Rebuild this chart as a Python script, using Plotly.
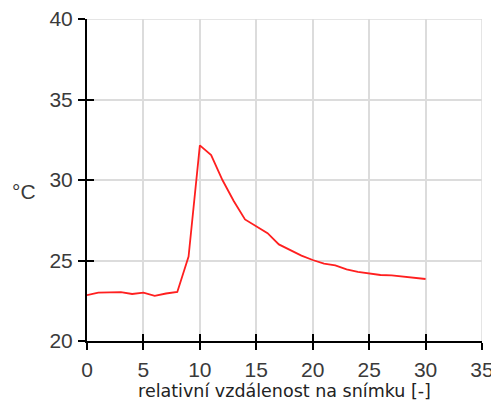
import plotly.graph_objects as go

x_values = list(range(0, 31))
temperature_c = [22.85, 23.0, 23.02, 23.04, 22.92, 23.0, 22.8, 22.95, 23.05, 25.25,
                 32.15, 31.55, 30.0, 28.7, 27.55, 27.15, 26.7, 26.0, 25.65, 25.3,
                 25.03, 24.8, 24.7, 24.45, 24.3, 24.2, 24.1, 24.08, 24.0, 23.95, 23.85]
x_tick_vals = [0, 5, 10, 15, 20, 25, 30, 35]
y_tick_vals = [20, 25, 30, 35, 40]
x_title = "relativní vzdálenost na snímku [-]"
y_title = "°C"

tick_font = dict(family="Liberation Sans", size=21, color="#3a3a3a")
grid_color = "#dcdcdc"

W, H = 491, 397
L, R, T, B = 79, 17, 11, 64

fig = go.Figure()
fig.add_trace(go.Scatter(x=x_values, y=temperature_c, mode="lines",
                         line=dict(color="#ff1f1f", width=1.8), hoverinfo="skip",
                         showlegend=False))
fig.add_trace(go.Scatter(x=x_values, y=temperature_c, mode="lines", xaxis="x2", yaxis="y2",
                         line=dict(color="rgba(0,0,0,0)", width=0), hoverinfo="skip",
                         showlegend=False))

# edge grid lines (top and right), which plotly omits at the range limits
fig.add_shape(type="line", xref="paper", yref="y", x0=0, x1=1,
              y0=y_tick_vals[-1], y1=y_tick_vals[-1], line=dict(color=grid_color, width=1.5),
              layer="below")
fig.add_shape(type="line", xref="x", yref="paper", x0=x_tick_vals[-1], x1=x_tick_vals[-1],
              y0=0, y1=1, line=dict(color=grid_color, width=1.5), layer="below")

fig.update_layout(
    width=W, height=H,
    margin=dict(l=L, r=R, t=T, b=B, autoexpand=False),
    paper_bgcolor="white", plot_bgcolor="white",
    xaxis=dict(range=[0, 35], tickvals=x_tick_vals, showgrid=True, gridcolor=grid_color,
               gridwidth=1.5, zeroline=False, showline=True, linecolor="black", linewidth=2,
               ticks="outside", ticklen=7, tickwidth=2, tickcolor="black", automargin=False,
               tickfont=tick_font, ticklabelstandoff=2, ticklabeloverflow="allow",
               title=dict(text=x_title, font=dict(family="DejaVu Sans", size=17.5, color="#222222"),
                          standoff=0)),
    yaxis=dict(range=[20, 40], tickvals=y_tick_vals, showgrid=True, gridcolor=grid_color,
               gridwidth=1.5, zeroline=False, showline=True, linecolor="black", linewidth=2,
               ticks="outside", ticklen=7, tickwidth=2, tickcolor="black", automargin=False,
               tickfont=tick_font, ticklabelstandoff=1, ticklabeloverflow="allow"),
    xaxis2=dict(range=[0, 35], tickvals=x_tick_vals, overlaying="x", anchor="y2", side="bottom",
                showgrid=False, zeroline=False, showline=False, showticklabels=False,
                automargin=False, ticks="inside", ticklen=7, tickwidth=2, tickcolor="black"),
    yaxis2=dict(range=[20, 40], tickvals=y_tick_vals, overlaying="y", anchor="x2", side="left",
                showgrid=False, zeroline=False, showline=False, showticklabels=False,
                automargin=False, ticks="inside", ticklen=7, tickwidth=2, tickcolor="black"),
    annotations=[dict(text=y_title, xref="paper", yref="paper", showarrow=False,
                      x=(16 - L) / (W - L - R), y=(H - B - 183) / (H - T - B),
                      xanchor="center", yanchor="middle",
                      font=dict(family="Liberation Sans", size=21, color="#3a3a3a"))],
)

fig.write_html("out.html")
